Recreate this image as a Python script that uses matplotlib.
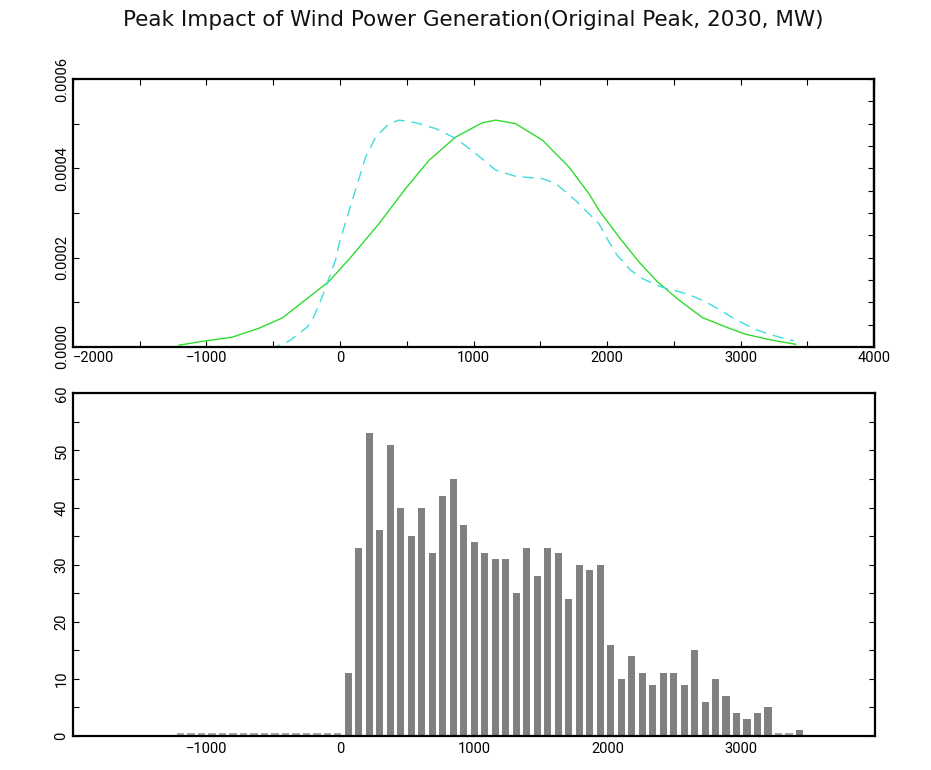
import numpy as np
import matplotlib
matplotlib.use("Agg")
import matplotlib.pyplot as plt
from matplotlib.ticker import MultipleLocator

plt.rcParams['font.family'] = ['Roboto', 'DejaVu Sans']

title = "Peak Impact of Wind Power Generation(Original Peak, 2030, MW)"

# Top panel: density curves (MW, density)
green_x = [-1206, -1031, -806, -607, -432, -257, -82, -7, 67, 292, 492, 667, 866,
           1066, 1166, 1316, 1516, 1715, 1865, 1940, 2090, 2240, 2378, 2539, 2714,
           2889, 3039, 3238, 3414]
green_y = [0.000004, 0.0000126, 0.000022, 0.000042, 0.000065, 0.000106, 0.000147,
           0.000172, 0.000196, 0.000276, 0.000355, 0.000418, 0.00047, 0.000502,
           0.000508, 0.0005, 0.000463, 0.000403, 0.000343, 0.000306, 0.000246,
           0.00019, 0.000146, 0.000105, 0.0000658, 0.0000448, 0.0000284, 0.000015,
           0.000006]

cyan_x = [-1206, -480, -382, -245, -207, -132, -32, -7, 92, 192, 267, 367, 442, 567,
          717, 867, 1017, 1166, 1316, 1516, 1616, 1765, 1940, 2015, 2077, 2177, 2265,
          2378, 2440, 2552, 2639, 2739, 2827, 2939, 3014, 3114, 3201, 3301, 3401]
cyan_y = [0.0, 0.0, 0.000013, 0.0000448, 0.00006, 0.000113, 0.000196, 0.000231,
          0.000328, 0.000425, 0.00047, 0.0005, 0.000508, 0.000502, 0.000489,
          0.000467, 0.000433, 0.000396, 0.000382, 0.000377, 0.000366, 0.000328,
          0.000276, 0.000235, 0.000205, 0.000172, 0.000153, 0.000138, 0.000131,
          0.000123, 0.000114, 0.000101, 0.000086, 0.0000658, 0.0000538, 0.000039,
          0.00003, 0.000021, 0.0000134]

# Bottom panel: histogram counts
bin_start = -1234.0
bin_width = 78.5
counts = [0, 0, 0, 0, 0, 0, 0, 0, 0, 0, 0, 0, 0, 0, 0, 0,
          11, 33, 53, 36, 51, 40, 35, 40, 32, 42, 45, 37, 34, 32, 31, 31, 25, 33,
          28, 33, 32, 24, 30, 29, 30,
          16, 10, 14, 11, 9, 11, 11, 9, 15, 6, 10, 7, 4, 3, 4, 5, 0, 0, 1]

top_xticks = [-2000, -1000, 0, 1000, 2000, 3000, 4000]
top_yticks = [0.0, 0.0002, 0.0004, 0.0006]
bot_xticks = [-1000, 0, 1000, 2000, 3000]
bot_yticks = [0, 10, 20, 30, 40, 50, 60]


def fmt(v):
    return ("\u2212" + str(-v)) if v < 0 else str(v)


fig = plt.figure(figsize=(9.31, 7.70), dpi=100)
fig.patch.set_facecolor('white')

tick_fs = 10.5
spine_lw = 1.6

# ---------- top axes ----------
ax1 = fig.add_axes([0.0784, 0.5494, 0.8604, 0.3480])
ax1.plot(green_x, green_y, color='#2edb2e', lw=1.0)
ax1.plot(cyan_x, cyan_y, color='#3fdcdc', lw=1.0, dashes=(8, 5))
ax1.set_xlim(-2000, 4000)
ax1.set_ylim(0, 0.0006)
ax1.set_xticks(top_xticks)
ax1.set_xticklabels([fmt(v) for v in top_xticks])
ax1.set_yticks(top_yticks)
ax1.set_yticklabels(["%.4f" % v for v in top_yticks], rotation=90, va='center')
ax1.xaxis.set_minor_locator(MultipleLocator(500))
ax1.yaxis.set_minor_locator(MultipleLocator(0.0001))
ax1.tick_params(axis='both', which='both', direction='in', length=4, width=0.8,
                labelsize=tick_fs, top=True, right=False, pad=3)
ax1.get_xticklabels()[0].set_horizontalalignment('left')
sec = ax1.secondary_yaxis('right')
sec.set_yticks(np.arange(0, 0.00061, 0.00005))
sec.tick_params(direction='in', length=4, width=0.8, labelright=False)
sec.spines['right'].set_linewidth(spine_lw)
for s in ax1.spines.values():
    s.set_linewidth(spine_lw)

# ---------- bottom axes ----------
ax2 = fig.add_axes([0.0781, 0.0442, 0.8617, 0.4450])
centers = [bin_start + bin_width * (i + 0.5) for i in range(len(counts))]
heights = [c if c > 0 else 0.45 for c in counts]
colors = ['#808080' if c > 0 else '#a8a8a8' for c in counts]
ax2.bar(centers, heights, width=bin_width * 0.7, color=colors, edgecolor='none')
ax2.set_xlim(-2000, 4000)
ax2.set_ylim(0, 60)
ax2.set_xticks(bot_xticks)
ax2.set_xticklabels([fmt(v) for v in bot_xticks])
ax2.set_yticks(bot_yticks)
ax2.set_yticklabels([str(v) for v in bot_yticks], rotation=90, va='center')
ax2.yaxis.set_minor_locator(MultipleLocator(5))
ax2.tick_params(axis='x', which='both', length=0, labelsize=tick_fs, pad=4)
ax2.tick_params(axis='y', which='both', direction='in', length=4, width=0.8,
                labelsize=tick_fs, right=True, pad=3)
for s in ax2.spines.values():
    s.set_linewidth(spine_lw)

fig.text(0.5086, 0.974, title, ha='center', va='center', fontsize=15.5,
         family=['DejaVu Sans'], color='#111111')

fig.savefig('out.png', dpi=100, facecolor='white')
